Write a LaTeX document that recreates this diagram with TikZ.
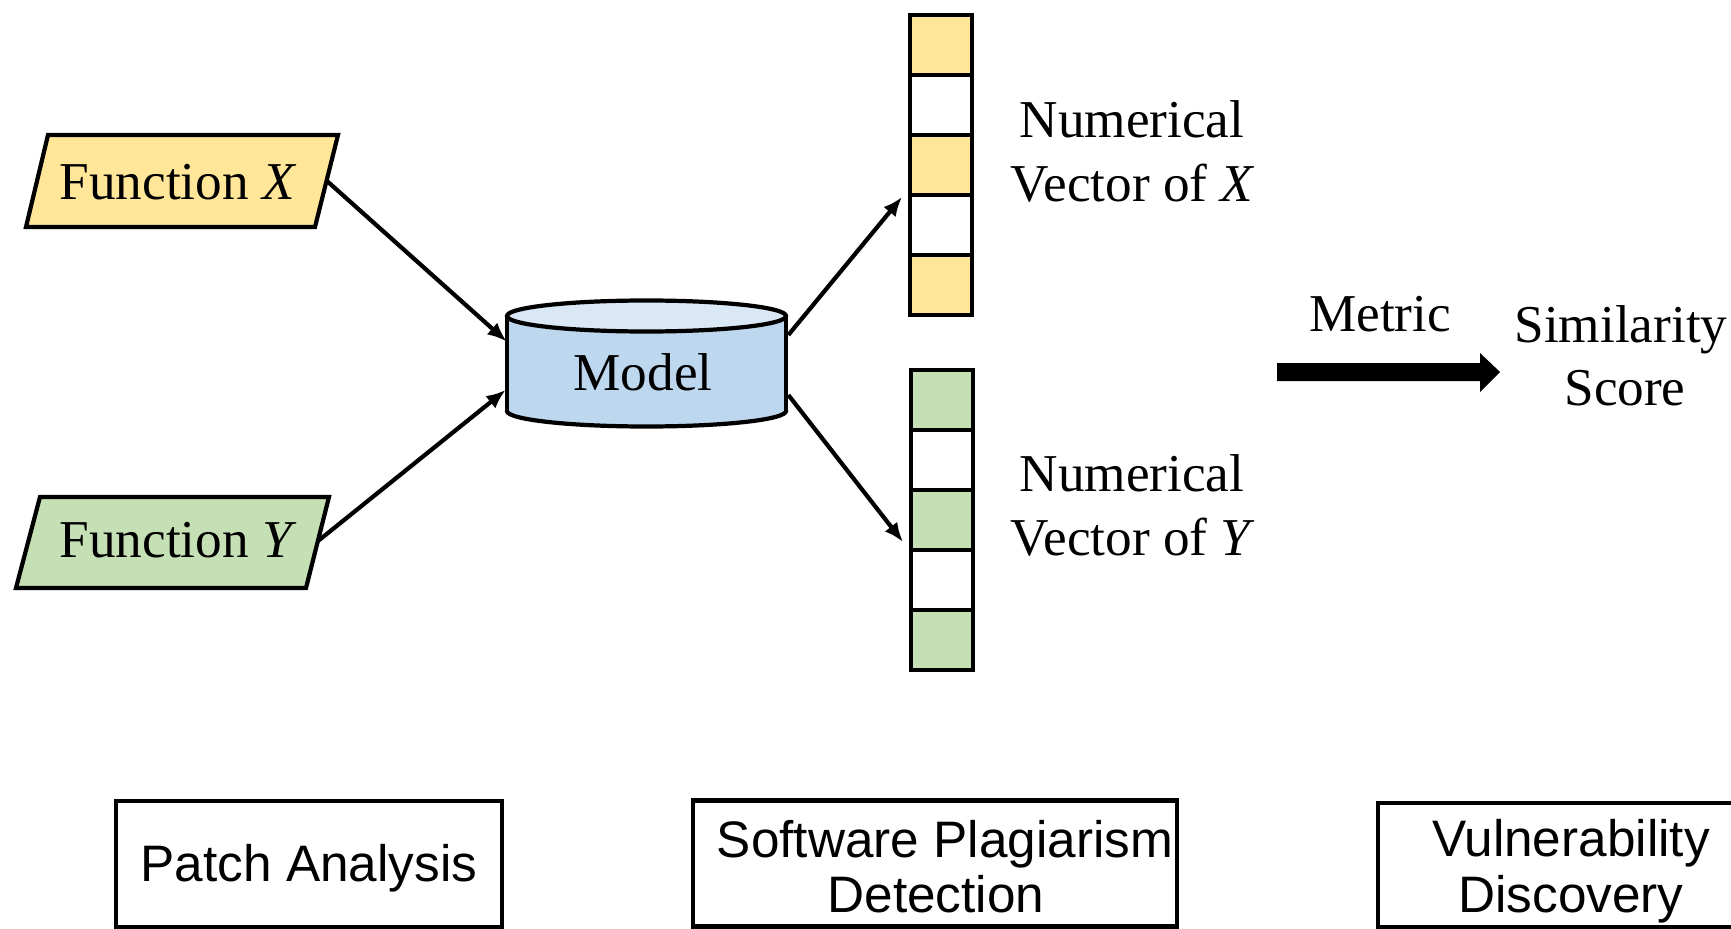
\documentclass[tikz,border=0pt]{standalone}
\usepackage{fontspec}
\setmainfont{Liberation Serif}
\setsansfont{Liberation Sans}
\usetikzlibrary{arrows.meta,calc}
\newdimen\pxu \pxu=0.02cm
\definecolor{fyel}{HTML}{FFE699}
\definecolor{fgrn}{HTML}{C5E0B4}
\definecolor{cylside}{HTML}{BDD7EE}
\definecolor{cyltop}{HTML}{DAE8F5}
\begin{document}
\begin{tikzpicture}[x=0.02cm,y=-0.02cm,
  serift/.style={font=\fontsize{30.3}{36}\selectfont, inner sep=0pt},
  sanst/.style={font=\sffamily\fontsize{29.2}{32}\selectfont, inner sep=0pt},
  link/.style={line width=2.4pt, -{Latex[length=11pt,width=9pt]}},
  outline/.style={line width=2.4pt, line join=miter},
  cell/.style={draw, line width=2.6pt, minimum width=62\pxu, minimum height=60\pxu, inner sep=0pt, outer sep=0pt},
  appbox/.style={draw, line width=2.4pt, inner sep=0pt, minimum height=126\pxu}
]
\useasboundingbox (0,0) rectangle (1731,929);

% input functions (parallelograms)
\draw[outline, fill=fyel] (48,135) -- (338,135) -- (315,227) -- (26,227) -- cycle;
\node[serift, anchor=base] (fxlabel) at (178,200) {Function \textit{X}};
\coordinate (fxout) at (327,181);

\draw[outline, fill=fgrn] (40,497) -- (329,497) -- (306,588) -- (16,588) -- cycle;
\node[serift, anchor=base] (fylabel) at (178,557) {Function \textit{Y}};
\coordinate (fyout) at (318,541);

% model cylinder
\draw[outline, fill=cylside] (646.5,411) ellipse [x radius=139.5, y radius=15.5];
\fill[cylside] (507,316) rectangle (786,411);
\draw[outline] (507,316) -- (507,411) (786,316) -- (786,411);
\draw[outline, fill=cyltop] (646.5,316) ellipse [x radius=139.5, y radius=15.5];
\node[inner sep=0pt, minimum width=279\pxu, minimum height=126\pxu] (model) at (646.5,363.5) {};
\node[serift, anchor=base] (modellabel) at (643,390) {Model};

% embedding vectors
\node[cell, fill=fyel]  (vx1) at (941,45)  {};
\node[cell, fill=white] (vx2) at (941,105) {};
\node[cell, fill=fyel]  (vx3) at (941,165) {};
\node[cell, fill=white] (vx4) at (941,225) {};
\node[cell, fill=fyel]  (vx5) at (941,285) {};

\node[cell, fill=fgrn]  (vy1) at (942,400) {};
\node[cell, fill=white] (vy2) at (942,460) {};
\node[cell, fill=fgrn]  (vy3) at (942,520) {};
\node[cell, fill=white] (vy4) at (942,580) {};
\node[cell, fill=fgrn]  (vy5) at (942,640) {};

\node[serift, anchor=base] (nvx1) at (1132,138) {Numerical};
\node[serift, anchor=base] (nvx2) at (1133,202) {Vector of \textit{X}};
\node[serift, anchor=base] (nvy1) at (1132,491) {Numerical};
\node[serift, anchor=base] (nvy2) at (1133,555) {Vector of \textit{Y}};

% connectors
\draw[link] (fxout) -- ($(model.west)+(0,-22)$);
\draw[link] (fyout) -- ($(model.west)+(-1,26.5)$);
\draw[link] ($(model.east)+(2,-28.5)$) -- ($(vx4.north west)+(-8,2)$);
\draw[link] ($(model.east)+(2,31.5)$) -- ($(vy3.south west)+(-8,-8)$);

% metric arrow and similarity score
\node[serift, anchor=base] (metric) at (1380,332) {Metric};
\fill (1277,363) -- (1480,363) -- (1480,353) -- (1500,372) -- (1480,392) -- (1480,381) -- (1277,381) -- cycle;
\node[serift, anchor=base] (sim1) at (1621,342) {Similarity};
\node[serift, anchor=base] (sim2) at (1625,405) {Score};

% application boxes
\node[appbox, minimum width=386\pxu] (patch) at (309,864) {};
\node[sanst, anchor=base] (patchlabel) at (309,881) {Patch Analysis};

\node[appbox, minimum width=484\pxu] (plag) at (935,863.5) {};
\node[sanst, anchor=base] (plag1) at (945,857) {Software Plagiarism};
\node[sanst, anchor=base] (plag2) at (936,912) {Detection};

\node[appbox, minimum width=412\pxu, minimum height=124\pxu] (vuln) at (1584,865) {};
\node[sanst, anchor=base] (vuln1) at (1571,856) {Vulnerability};
\node[sanst, anchor=base] (vuln2) at (1571,912) {Discovery};
\end{tikzpicture}
\end{document}
